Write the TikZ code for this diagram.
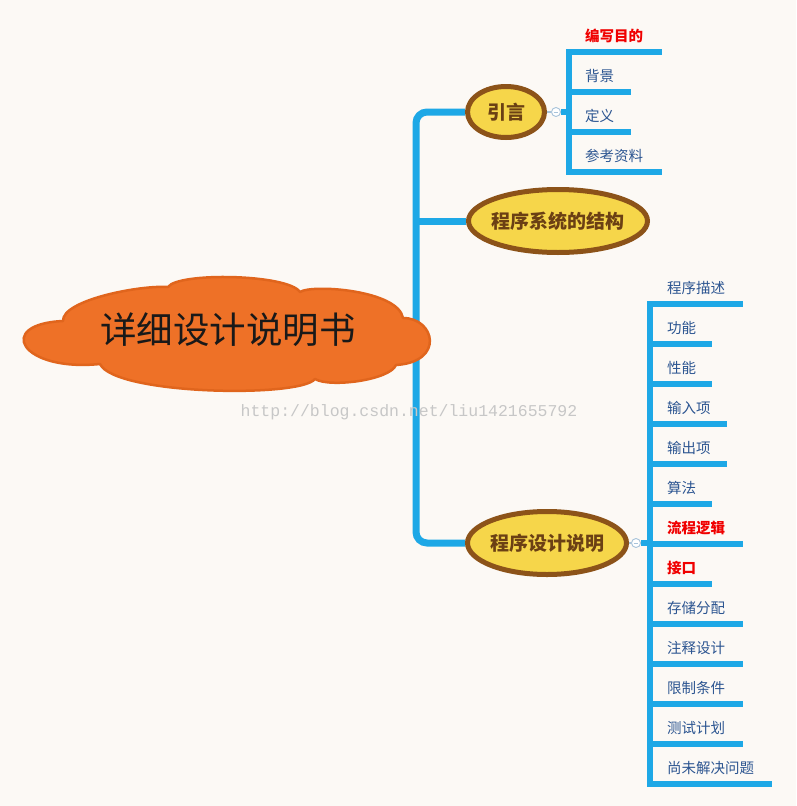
\documentclass[tikz,border=0pt]{standalone}
\usepackage{fontspec}
\usetikzlibrary{shapes.geometric}
\newfontfamily\cjk{Noto Sans CJK SC}
\newfontfamily\wmfont{Liberation Mono}
\definecolor{bgc}{HTML}{FCF9F5}
\definecolor{trunkc}{HTML}{1EA8E6}
\definecolor{cloudfill}{HTML}{EE7127}
\definecolor{clouddraw}{HTML}{E0651D}
\definecolor{ellfill}{HTML}{F6D64A}
\definecolor{elldraw}{HTML}{8C5319}
\definecolor{elltext}{HTML}{6B4014}
\definecolor{subtext}{HTML}{2C5591}
\definecolor{subred}{HTML}{F00000}
\definecolor{colldraw}{HTML}{A8C3DA}
\pgfdeclarelayer{back}
\pgfdeclarelayer{lines}
\pgfsetlayers{back,lines,main}
\begin{document}
\begin{tikzpicture}[x=1pt,y=-1pt,
  topic/.style={ellipse, draw=elldraw, fill=ellfill, line width=5pt, inner xsep=-25pt, inner ysep=-6pt,
    text=elltext, font=\cjk\bfseries\fontsize{19}{21}\selectfont},
  trunkline/.style={draw=trunkc, line width=7pt},
  subline/.style={draw=trunkc, line width=6pt},
  thinline/.style={draw=colldraw, line width=1.2pt},
  coll/.style={circle, draw=colldraw, fill=white, line width=0.9pt, minimum size=9pt, inner sep=0pt,
    path picture={\draw[colldraw, line width=0.9pt] ([xshift=-2.3pt]path picture bounding box.center) -- ([xshift=2.3pt]path picture bounding box.center);}},
  subtxt/.style={anchor=west, inner sep=0pt, text=subtext, font=\cjk\fontsize{14.5}{16}\selectfont},
  subhot/.style={anchor=west, inner sep=0pt, text=subred, font=\cjk\bfseries\fontsize{14.5}{16}\selectfont},
  titletxt/.style={inner sep=0pt, text=black!90, font=\cjk\fontsize{36.5}{40}\selectfont},
  wm/.style={inner sep=0pt, text=black!22, font=\wmfont\fontsize{16.5}{18}\selectfont}
]
\begin{pgfonlayer}{back}
\fill[bgc] (0,0) rectangle (796,806);
\end{pgfonlayer}
\useasboundingbox (0,0) rectangle (796,806);

% topics
\node[topic, minimum width=77pt, minimum height=51pt] (t1) at (506,112) {引言};
\node[topic, minimum width=179pt, minimum height=63pt] (t2) at (558,221) {程序系统的结构};
\node[topic, minimum width=159pt, minimum height=63pt] (t3) at (547,543) {程序设计说明};

% collapse markers
\node[coll] (c1) at (556,112) {};
\node[coll] (c3) at (636,543) {};

\coordinate (tr) at (416,0);
\coordinate (v1) at (569,0);
\coordinate (v3) at (650,0);

\begin{pgfonlayer}{lines}
\draw[trunkline, rounded corners=11pt] (t1.west) -- (t1.west -| tr) -- (t3.west -| tr) -- (t3.west);
\draw[trunkline] (t2.west -| tr) -- (t2.west);
\draw[thinline] (t1.east) -- (c1.west);
\draw[thinline] (t3.east) -- (c3.west);
\draw[subline] (c1.east) -- (c1.east -| v1);
\draw[subline] (c3.east) -- (c3.east -| v3);
\draw[subline] (569,49) -- (569,175);
\draw[subline] (650,301) -- (650,787);
\end{pgfonlayer}

% subtopics of 引言
\foreach \txt/\yy/\xe/\sty [count=\i] in {编写目的/52/662/subhot, 背景/92/631/subtxt, 定义/132/631/subtxt, 参考资料/172/662/subtxt}{
  \node[\sty] (a\i) at (585,\yy-16) {\txt};
  \begin{pgfonlayer}{lines}
  \draw[subline] (566,\yy) -- (\xe,\yy);
  \end{pgfonlayer}
}

% subtopics of 程序设计说明
\foreach \txt/\yy/\xe/\sty [count=\i] in {程序描述/304/743/subtxt, 功能/344/712/subtxt, 性能/384/712/subtxt, 输入项/424/727/subtxt, 输出项/464/727/subtxt, 算法/504/712/subtxt, 流程逻辑/544/743/subhot, 接口/584/712/subhot, 存储分配/624/743/subtxt, 注释设计/664/743/subtxt, 限制条件/704/743/subtxt, 测试计划/744/743/subtxt, 尚未解决问题/784/772/subtxt}{
  \node[\sty] (b\i) at (667,\yy-16) {\txt};
  \begin{pgfonlayer}{lines}
  \draw[subline] (647,\yy) -- (\xe,\yy);
  \end{pgfonlayer}
}

% cloud
\path[fill=cloudfill, draw=clouddraw, line width=2.5pt, line join=round]
  (63,321) .. controls (62,300) and (140,285) .. (168,287)
  .. controls (178,272) and (288,274) .. (300,292)
  .. controls (312,284) and (398,290) .. (403,318)
  .. controls (435,318) and (445,362) .. (396,365)
  .. controls (390,380) and (330,388) .. (315,379)
  .. controls (300,398) and (115,395) .. (100,364)
  .. controls (20,372) and (-5,324) .. (63,321) -- cycle;
\node[titletxt] (title) at (228,330) {详细设计说明书};

% watermark
\node[wm] (wmk) at (409,412) {http://blog.csdn.net/liu1421655792};
\end{tikzpicture}
\end{document}
